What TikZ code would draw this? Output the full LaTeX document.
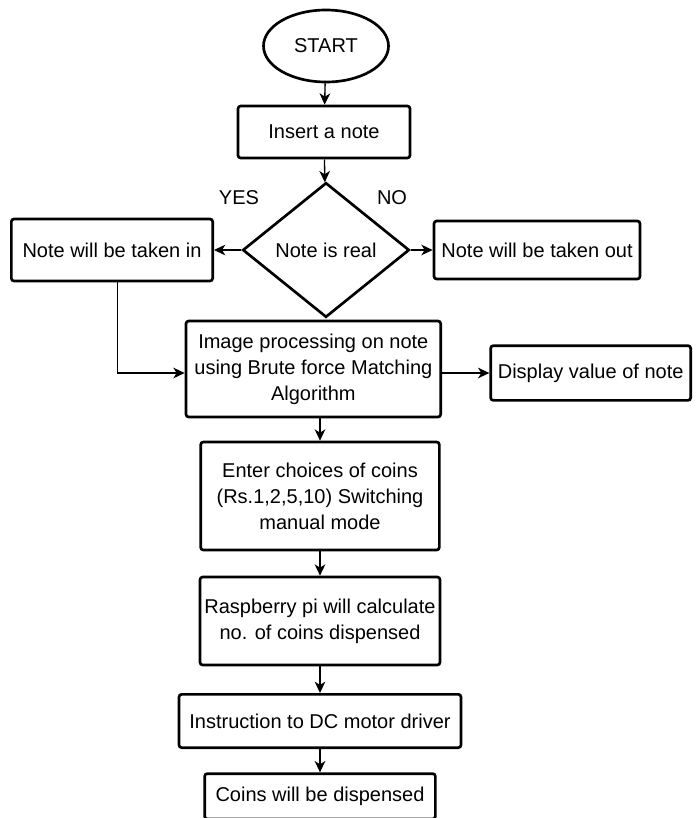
\documentclass[tikz,border=0pt]{standalone}
\usepackage{fontspec}
\setmainfont{Liberation Sans}
\usetikzlibrary{shapes.geometric,arrows.meta,positioning}

\begin{document}
\begin{tikzpicture}[node distance=20mm, font=\fontsize{15}{19.5}\selectfont, block/.style={rectangle, draw, line width=2pt, rounded corners=2pt, align=center, inner sep=1pt}, terminal/.style={ellipse, draw, line width=2pt, minimum width=93.75pt, minimum height=54pt}, decision/.style={diamond, draw, line width=2pt, minimum width=125pt, minimum height=101pt, inner sep=1pt}, flow/.style={-{Stealth[length=8.5pt,width=8pt,inset=2.5pt]}, line width=1pt}]

  \useasboundingbox (0,0) rectangle (524.25pt,-613.5pt);
  \node[terminal] (start) at (244.5pt,-34.5pt) {START};
  \node[block, below of=start, node distance=64.5pt, xshift=-1.5pt, minimum width=129pt, minimum height=39pt] (insert) {Insert a note};
  \node[decision, below of=insert, node distance=88.5pt, xshift=1.5pt] (real) {Note is real};
  \node[block, left of=real, node distance=160.5pt, minimum width=151pt, minimum height=46.5pt] (takenin) {Note will be taken in};
  \node[block, right of=real, node distance=158.25pt, minimum width=154.5pt, minimum height=43.5pt] (takenout) {Note will be taken out};
  \node (yes) at ([xshift=-65.25pt, yshift=39pt]real.center) {YES};
  \node (no) at ([xshift=49.5pt, yshift=39pt]real.center) {NO};
  \node[block, below of=real, node distance=89.25pt, xshift=-9.5pt, minimum width=191pt, minimum height=72pt] (imgproc) {Image processing on note\\using Brute force Matching\\Algorithm};
  \node[block, right of=imgproc, node distance=208pt, yshift=-3pt, minimum width=150pt, minimum height=41pt] (display) {Display value of note};
  \node[block, below of=imgproc, node distance=95.25pt, xshift=5pt, minimum width=179pt, minimum height=81pt] (choices) {Enter choices of coins\\(Rs.1,2,5,10) Switching\\manual mode};
  \node[block, below of=choices, node distance=93.75pt, minimum width=180pt, minimum height=66pt] (raspi) {Raspberry pi will calculate\\no. of coins dispensed};
  \node[block, below of=raspi, node distance=75pt, minimum width=211.5pt, minimum height=40pt] (driver) {Instruction to DC motor driver};
  \node[block, below of=driver, node distance=56.5pt, minimum width=173pt, minimum height=34pt] (dispense) {Coins will be dispensed};

  \draw[flow] (start) -- (insert);
  \draw[flow] (insert) -- (real);
  \draw[flow] (real) -- (takenin);
  \draw[flow] (real) -- (takenout);
  \draw[flow] ([xshift=4pt]takenin.south) |- ([yshift=-3pt]imgproc.west);
  \draw[flow] (imgproc.east |- display) -- (display);
  \draw[flow] (imgproc.south -| choices) -- (choices);
  \draw[flow] (choices) -- (raspi);
  \draw[flow] (raspi) -- (driver);
  \draw[flow] (driver) -- (dispense);
\end{tikzpicture}
\end{document}
